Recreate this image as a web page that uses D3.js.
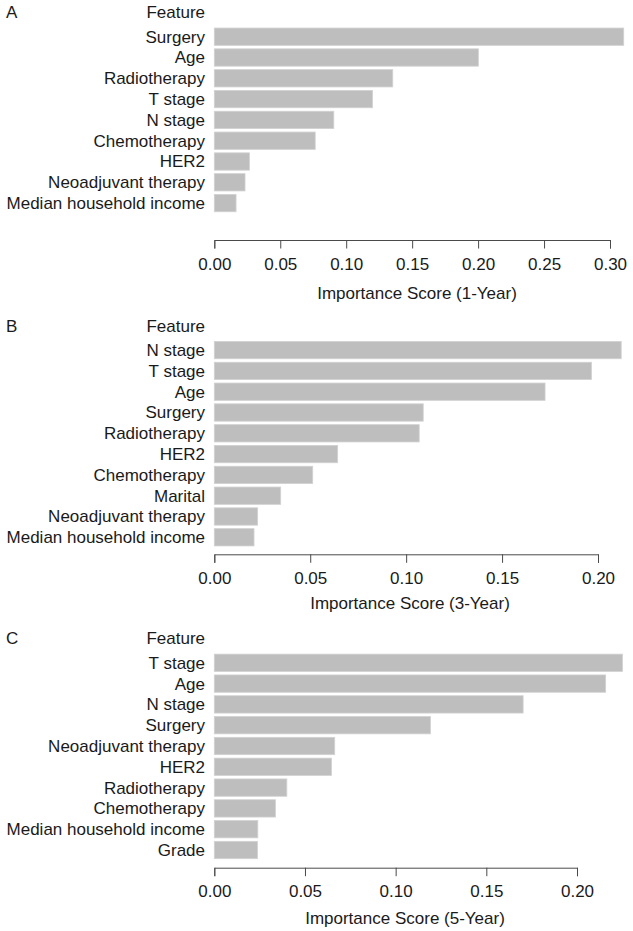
<!DOCTYPE html>
<html><head><meta charset="utf-8">
<script src="https://cdn.jsdelivr.net/npm/d3@7"></script>
<style>body{margin:0;background:#fff}svg{display:block}text{font-family:"Liberation Sans",Arial,sans-serif;fill:#1a1a1a}</style>
</head><body>
<svg id="c" width="633" height="931"></svg>
<script>
// Panel A (1-Year)
const featuresA = ["Surgery","Age","Radiotherapy","T stage","N stage","Chemotherapy","HER2","Neoadjuvant therapy","Median household income"];
const scoresA = [0.3104,0.2002,0.1353,0.1200,0.0906,0.0765,0.0266,0.0233,0.0165];
const ticksA = [0,0.05,0.10,0.15,0.20,0.25,0.30];
// Panel B (3-Year)
const featuresB = ["N stage","T stage","Age","Surgery","Radiotherapy","HER2","Chemotherapy","Marital","Neoadjuvant therapy","Median household income"];
const scoresB = [0.2121,0.1966,0.1724,0.1089,0.1068,0.0643,0.0513,0.0346,0.0226,0.0207];
const ticksB = [0,0.05,0.10,0.15,0.20];
// Panel C (5-Year)
const featuresC = ["T stage","Age","N stage","Surgery","Neoadjuvant therapy","HER2","Radiotherapy","Chemotherapy","Median household income","Grade"];
const scoresC = [0.2251,0.2158,0.1703,0.1192,0.0664,0.0646,0.0400,0.0337,0.0240,0.0238];
const ticksC = [0,0.05,0.10,0.15,0.20];

const panels = [
  {letter:"A", feats:featuresA, vals:scoresA, ticks:ticksA, title:"Importance Score (1-Year)", top:26.3, axisY:240, tickEnd:610, titleX:417, titleY:293},
  {letter:"B", feats:featuresB, vals:scoresB, ticks:ticksB, title:"Importance Score (3-Year)", top:339.7, axisY:554.3, tickEnd:598, titleX:410, titleY:603},
  {letter:"C", feats:featuresC, vals:scoresC, ticks:ticksC, title:"Importance Score (5-Year)", top:652.4, axisY:867.7, tickEnd:577, titleX:405, titleY:918}
];
const pitch = 20.8, x0 = 214.3, fs = 17;
const svg = d3.select("#c");

panels.forEach(p => {
  const g = svg.append("g");
  const tmax = p.ticks[p.ticks.length-1];
  const x = d3.scaleLinear().domain([0, tmax]).range([x0, p.tickEnd]);
  const y = d3.scaleBand().domain(p.feats)
    .range([p.top, p.top + p.feats.length*pitch])
    .paddingInner(0.2/1.2).paddingOuter(0.1/1.2);
  const firstC = y(p.feats[0]) + y.bandwidth()/2;
  g.append("text").attr("x",6).attr("y",firstC-24.5).attr("dy","0.35em")
    .style("font-size",fs+"px").text(p.letter);
  g.append("text").attr("x",205).attr("y",firstC-24.5).attr("dy","0.35em")
    .attr("text-anchor","end").style("font-size",fs+"px").text("Feature");
  g.selectAll("rect").data(p.feats).join("rect")
    .attr("x", x(0)).attr("y", d => y(d))
    .attr("width", (d,i) => x(p.vals[i]) - x(0))
    .attr("height", y.bandwidth())
    .attr("fill","#bebebe").attr("stroke","#d2d2d2").attr("stroke-width",0.8);
  g.selectAll("text.lab").data(p.feats).join("text").attr("class","lab")
    .attr("x",205).attr("y", d => y(d)+y.bandwidth()/2).attr("dy","0.35em")
    .attr("text-anchor","end").style("font-size",fs+"px").text(d => d);
  const ax = g.append("g").attr("transform",`translate(0,${p.axisY})`)
    .call(d3.axisBottom(x).tickValues(p.ticks).tickFormat(d3.format(".2f")).tickSizeOuter(0).tickSize(8.5).tickPadding(9));
  ax.select(".domain").attr("stroke","#4a4a4a");
  ax.selectAll(".tick line").attr("stroke","#4a4a4a");
  ax.selectAll(".tick text").style("font-size",fs+"px").style("font-family",'"Liberation Sans",Arial,sans-serif').attr("fill","#1a1a1a");
  g.append("text").attr("x",p.titleX).attr("y",p.titleY).attr("dy","0.35em")
    .attr("text-anchor","middle").style("font-size",fs+"px").text(p.title);
});
</script>
</body></html>
